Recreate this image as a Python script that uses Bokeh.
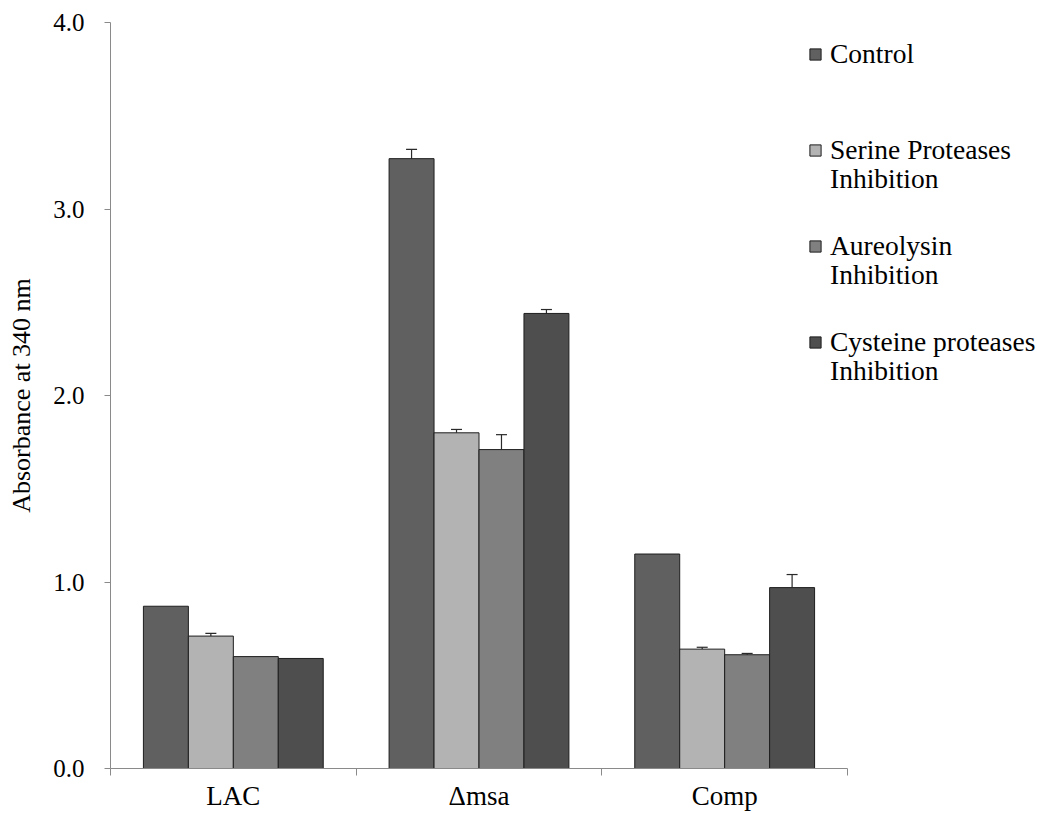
from bokeh.plotting import figure
from bokeh.models import (ColumnDataSource, Whisker, TeeHead, FixedTicker, Legend,
                          LegendItem, Range1d, NumeralTickFormatter)
from bokeh.embed import file_html
from bokeh.resources import INLINE

# ---- data ----
categories = ["LAC", "\u0394msa", "Comp"]
series_first_line = ["Control", "Serine Proteases", "Aureolysin", "Cysteine proteases"]
series_second_line = ["", "Inhibition", "Inhibition", "Inhibition"]
series_colors = ["#606060", "#b3b3b3", "#808080", "#4e4e4e"]

control = [0.87, 3.27, 1.15]
serine = [0.71, 1.80, 0.64]
aureolysin = [0.60, 1.71, 0.61]
cysteine = [0.59, 2.44, 0.97]

control_err = [0.0, 0.05, 0.0]
serine_err = [0.014, 0.018, 0.010]
aureolysin_err = [0.0, 0.08, 0.007]
cysteine_err = [0.0, 0.021, 0.07]

y_ticks = [0, 1, 2, 3, 4]

FONT = "Liberation Serif"
AXIS_COLOR = "#8a8a8a"
bar_w = 0.183

W, H = 1037, 813
LEFT, TOP, BOTTOM = 110, 22, 45
AXIS_END_PX = 847          # where the category axis ends (pixels)
n_cat = len(categories)
x_end = n_cat * (W - LEFT) / (AXIS_END_PX - LEFT)

p = figure(width=W, height=H, output_backend="svg", toolbar_location=None,
           x_range=Range1d(0, x_end), y_range=Range1d(0, 4),
           min_border_left=LEFT, min_border_right=0, min_border_top=TOP,
           min_border_bottom=BOTTOM)
p.outline_line_color = None
p.xgrid.visible = False
p.ygrid.visible = False
p.background_fill_color = "white"
p.border_fill_color = "white"

series_vals = [control, serine, aureolysin, cysteine]
series_errs = [control_err, serine_err, aureolysin_err, cysteine_err]
n = len(series_vals)
items_first = []
items_second = []
for i, (vals, errs, color) in enumerate(zip(series_vals, series_errs, series_colors)):
    offset = (i - (n - 1) / 2) * bar_w
    xs = [j + 0.5 + offset for j in range(n_cat)]
    src = ColumnDataSource(dict(x=xs, top=vals))
    r = p.vbar(x="x", top="top", width=bar_w, bottom=0, source=src,
               fill_color=color, line_color="#1e1e1e", line_width=1)
    items_first.append(LegendItem(label=series_first_line[i], renderers=[r]))
    if series_second_line[i]:
        dummy = p.scatter(x=[], y=[], marker="square", fill_alpha=0, line_alpha=0)
        items_second.append(LegendItem(label=series_second_line[i], renderers=[dummy]))
    ex = [x for x, e in zip(xs, errs) if e > 0]
    lo = [v for v, e in zip(vals, errs) if e > 0]
    hi = [v + e for v, e in zip(vals, errs) if e > 0]
    if ex:
        esrc = ColumnDataSource(dict(x=ex, lo=lo, hi=hi))
        w = Whisker(base="x", lower="lo", upper="hi", source=esrc,
                    line_color="#2a2a2a", line_width=1.2,
                    upper_head=TeeHead(size=11, line_color="#2a2a2a", line_width=1.2),
                    lower_head=None)
        p.add_layout(w)

# x axis: labels at category centres, ticks at category boundaries
xa = p.xaxis[0]
xa.bounds = (0, n_cat)
xa.ticker = FixedTicker(ticks=[j + 0.5 for j in range(n_cat)],
                        minor_ticks=list(range(n_cat + 1)))
xa.major_label_overrides = {j + 0.5: c for j, c in enumerate(categories)}
xa.major_tick_out = 0
xa.major_tick_in = 0
xa.minor_tick_out = 7
xa.minor_tick_in = 0
xa.axis_line_color = AXIS_COLOR
xa.minor_tick_line_color = AXIS_COLOR
xa.major_label_text_font = FONT
xa.major_label_text_font_size = "27px"
xa.major_label_text_color = "black"
xa.major_label_standoff = 5

ya = p.yaxis[0]
ya.ticker = FixedTicker(ticks=y_ticks)
ya.formatter = NumeralTickFormatter(format="0.0")
ya.major_tick_out = 6
ya.major_tick_in = 0
ya.minor_tick_out = 0
ya.minor_tick_in = 0
ya.axis_line_color = AXIS_COLOR
ya.major_tick_line_color = AXIS_COLOR
ya.major_label_text_font = FONT
ya.major_label_text_font_size = "25px"
ya.major_label_text_color = "black"
ya.major_label_standoff = 20
ya.axis_label = "Absorbance at 340 nm"
ya.axis_label_text_font = FONT
ya.axis_label_text_font_size = "26px"
ya.axis_label_text_font_style = "normal"
ya.axis_label_text_color = "black"
ya.axis_label_standoff = 14

frame_bottom = H - BOTTOM
item_h, pitch = 40, 95.5


def make_legend(items, first_center):
    top = first_center - item_h / 2
    height = len(items) * item_h + (len(items) - 1) * (pitch - item_h)
    lg = Legend(items=items, location=(808 - LEFT, frame_bottom - (top + height)))
    lg.label_text_font = FONT
    lg.label_text_font_size = "27.5px"
    lg.label_text_color = "black"
    lg.glyph_width = 14
    lg.glyph_height = 14
    lg.label_height = item_h
    lg.label_standoff = 8
    lg.spacing = int(round(pitch - item_h))
    lg.padding = 0
    lg.margin = 0
    lg.border_line_color = None
    lg.background_fill_alpha = 0
    return lg


p.add_layout(make_legend(items_first, 55), "center")
p.add_layout(make_legend(items_second, 180), "center")

open("out.html", "w").write(file_html(p, INLINE))
